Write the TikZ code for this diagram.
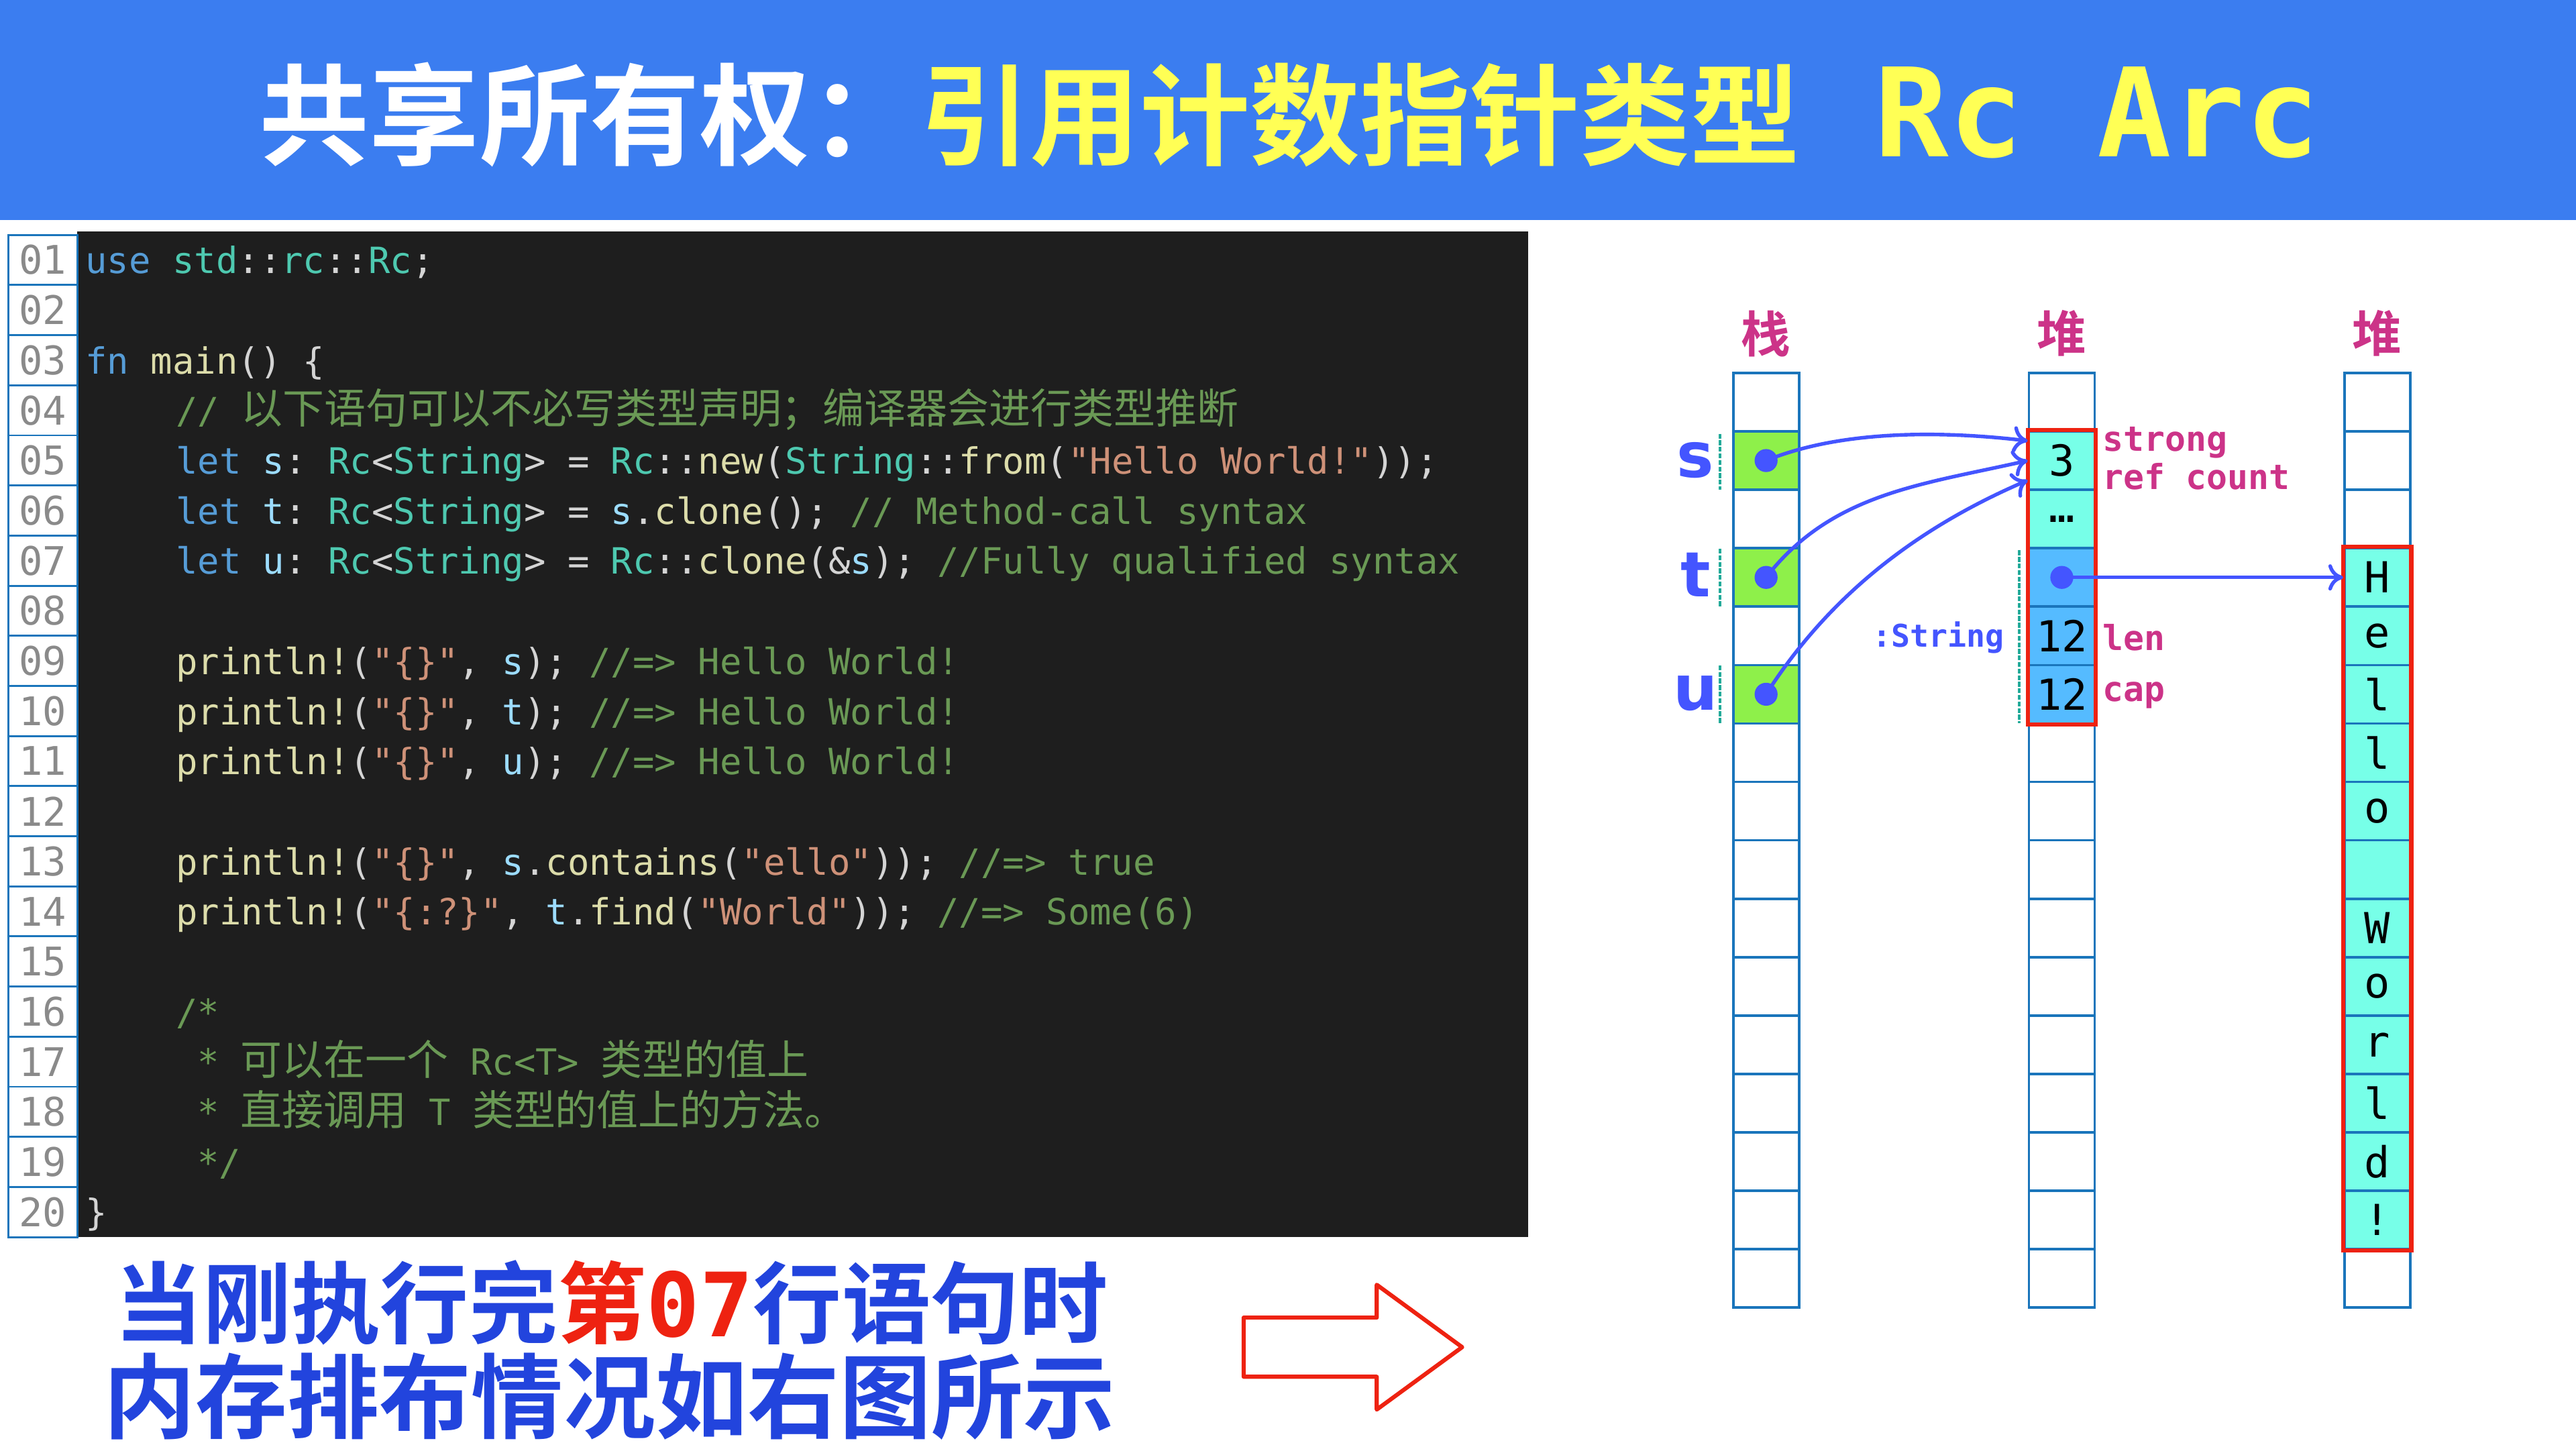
\documentclass[tikz,border=0pt]{standalone}
\usepackage{fontspec}
\setmainfont{DejaVu Sans}
\setmonofont{DejaVu Sans Mono}
\newfontfamily\cjk{Noto Sans CJK SC}[Scale=1.15]
\newfontfamily\cjkb{Noto Sans CJK SC Bold}
\newfontfamily\monob{DejaVu Sans Mono Bold}
\usetikzlibrary{calc,arrows.meta}
\definecolor{bar}{HTML}{3B7DF0}
\definecolor{ttl}{HTML}{FFFF55}
\definecolor{panel}{HTML}{1E1E1E}
\definecolor{ckw}{HTML}{569CD6}
\definecolor{cty}{HTML}{4EC9B0}
\definecolor{cfn}{HTML}{DCDCAA}
\definecolor{cva}{HTML}{9CDCFE}
\definecolor{cst}{HTML}{CE9178}
\definecolor{ccm}{HTML}{6A9955}
\definecolor{cpu}{HTML}{D4D4D4}
\definecolor{lnum}{HTML}{8A8A8A}
\definecolor{cellb}{HTML}{1A75BB}
\definecolor{green1}{HTML}{8EF04A}
\definecolor{cyan1}{HTML}{77FFE8}
\definecolor{blue1}{HTML}{55BBFF}
\definecolor{arrc}{HTML}{4455FF}
\definecolor{mag}{HTML}{CC3388}
\definecolor{teal1}{HTML}{22AA99}
\definecolor{redc}{HTML}{EE2211}
\definecolor{botb}{HTML}{2244DD}
\newcommand{\kw}[1]{\textcolor{ckw}{#1}}
\newcommand{\ty}[1]{\textcolor{cty}{#1}}
\newcommand{\fnc}[1]{\textcolor{cfn}{#1}}
\newcommand{\va}[1]{\textcolor{cva}{#1}}
\newcommand{\st}[1]{\textcolor{cst}{#1}}
\newcommand{\cm}[1]{\textcolor{ccm}{#1}}
\begin{document}
\begin{tikzpicture}[x=1mm,y=-1mm,
  codeline/.style={anchor=base west,inner sep=0,text=cpu,font=\ttfamily\fontsize{22mm}{26mm}\selectfont},
  lnbox/.style={draw=cellb,line width=1.2mm,fill=white,minimum width=42mm,minimum height=30.5mm,inner sep=0,text=lnum,font=\ttfamily\fontsize{24mm}{28mm}\selectfont},
  cell/.style={draw=cellb,line width=1.5mm,minimum width=40mm,minimum height=35.56mm,inner sep=0,font=\ttfamily\fontsize{26mm}{30mm}\selectfont},
  dotc/.style={circle,fill=arrc,minimum size=14mm,inner sep=0},
  arr/.style={draw=arrc,line width=2.2mm,-{To[length=9mm,width=16mm]}},
  lbl/.style={anchor=west,text=mag,inner sep=0,font=\monob\fontsize{21mm}{23mm}\selectfont},
  hdr/.style={text=mag,font=\cjkb\fontsize{30mm}{32mm}\selectfont},
  var/.style={text=arrc,font=\bfseries\fontsize{38mm}{40mm}\selectfont},
  dsh/.style={draw=teal1,line width=1.5mm,dashed,dash pattern=on 3mm off 1mm}]
\useasboundingbox (0,0) rectangle (1568,882);
\fill[white] (0,0) rectangle (1568,882);
% title
\fill[bar] (0,0) rectangle (1568,134);
\node (title) at (785,70) {\fontsize{67mm}{70mm}\selectfont\textcolor{white}{\cjkb 共享所有权：}\textcolor{ttl}{\cjkb 引用计数指针类型}\textcolor{ttl}{\monob\fontsize{75mm}{78mm}\selectfont{} Rc Arc}};
% code panel
\fill[panel] (47,141) rectangle (930,753);
\foreach \i [count=\n] in {01,02,03,04,05,06,07,08,09,10,11,12,13,14,15,16,17,18,19,20}
  \node[lnbox] (ln\n) at (26,143+30.5*\n-15.25) {\i};
\def\Y#1{143+30.5*#1-7}
\node[codeline] (c1) at (52,{\Y{1}}) {\kw{use} \ty{std}::\ty{rc}::\ty{Rc};};
\node[codeline] (c3) at (52,{\Y{3}}) {\kw{fn} \fnc{main}() \{};
\node[codeline] (c4) at (107,{\Y{4}}) {\cm{// {\cjk 以下语句可以不必写类型声明；编译器会进行类型推断}}};
\node[codeline] (c5) at (107,{\Y{5}}) {\kw{let} \va{s}: \ty{Rc}<\ty{String}> = \ty{Rc}::\fnc{new}(\ty{String}::\fnc{from}(\st{"Hello World!"}));};
\node[codeline] (c6) at (107,{\Y{6}}) {\kw{let} \va{t}: \ty{Rc}<\ty{String}> = \va{s}.\fnc{clone}(); \cm{// Method-call syntax}};
\node[codeline] (c7) at (107,{\Y{7}}) {\kw{let} \va{u}: \ty{Rc}<\ty{String}> = \ty{Rc}::\fnc{clone}(\&\va{s}); \cm{//Fully qualified syntax}};
\node[codeline] (c9) at (107,{\Y{9}}) {\fnc{println!}(\st{"\{\}"}, \va{s}); \cm{//=> Hello World!}};
\node[codeline] (c10) at (107,{\Y{10}}) {\fnc{println!}(\st{"\{\}"}, \va{t}); \cm{//=> Hello World!}};
\node[codeline] (c11) at (107,{\Y{11}}) {\fnc{println!}(\st{"\{\}"}, \va{u}); \cm{//=> Hello World!}};
\node[codeline] (c13) at (107,{\Y{13}}) {\fnc{println!}(\st{"\{\}"}, \va{s}.\fnc{contains}(\st{"ello"})); \cm{//=> true}};
\node[codeline] (c14) at (107,{\Y{14}}) {\fnc{println!}(\st{"\{:?\}"}, \va{t}.\fnc{find}(\st{"World"})); \cm{//=> Some(6)}};
\node[codeline] (c16) at (107,{\Y{16}}) {\cm{/*}};
\node[codeline] (c17) at (120,{\Y{17}}) {\cm{* {\cjk 可以在一个} Rc<T> {\cjk 类型的值上}}};
\node[codeline] (c18) at (120,{\Y{18}}) {\cm{* {\cjk 直接调用} T {\cjk 类型的值上的方法。}}};
\node[codeline] (c19) at (120,{\Y{19}}) {\cm{*/}};
\node[codeline] (c20) at (52,{\Y{20}}) {\}};
% bottom text
\node (b1) at (372,793) {\cjkb\fontsize{54mm}{56mm}\selectfont\textcolor{botb}{当刚执行完}\textcolor{redc}{第{\monob 07}}\textcolor{botb}{行语句时}};
\node (b2) at (371,850) {\cjkb\fontsize{56mm}{58mm}\selectfont\textcolor{botb}{内存排布情况如右图所示}};
% hollow arrow
\draw[redc,line width=2.5mm,line join=round] (757,802) -- (838,802) -- (838,782) -- (890,820) -- (838,858) -- (838,838) -- (757,838) -- cycle;
% headers
\node[hdr] (h1) at (1075,203) {栈};
\node[hdr] (h2) at (1255,203) {堆};
\node[hdr] (h3) at (1447,203) {堆};
% columns
\foreach \i in {0,...,15} {
  \node[cell,fill=white] (A\i) at (1075,{227+35.56*(\i+0.5)}) {};
  \node[cell,fill=white] (B\i) at (1255,{227+35.56*(\i+0.5)}) {};
  \node[cell,fill=white] (C\i) at (1447,{227+35.56*(\i+0.5)}) {};
}
\foreach \i in {1,3,5} \node[cell,fill=green1] at (A\i) {};
\node[cell,fill=cyan1] (B1) at (B1) {3};
\node[cell,fill=cyan1] (B2) at (B2) {\raisebox{-2mm}{…}};
\node[cell,fill=blue1] (B3) at (B3) {};
\node[cell,fill=blue1] (B4) at (B4) {12};
\node[cell,fill=blue1] (B5) at (B5) {12};
\foreach \i/\c in {3/H,4/e,5/l,6/l,7/o,8/{},9/W,10/o,11/r,12/l,13/d,14/!}
  \node[cell,fill=cyan1] (C\i) at (C\i) {\c};
\draw[redc,line width=2.5mm] (B1.north west) rectangle (B5.south east);
\draw[redc,line width=2.5mm] (C3.north west) rectangle (C14.south east);
% labels
\node[var] (vs) at (1032,280) {s};
\node[var] (vt) at (1032,350) {t};
\node[var] (vu) at (1032,422) {u};
\draw[dsh] (1047,264) -- (1047,298);
\draw[dsh] (1047,334) -- (1047,369);
\draw[dsh] (1047,405) -- (1047,440);
\draw[dsh] (1229,335) -- (1229,440);
\node[lbl,align=left] (lrc) at (1280,279) {strong\\ref count};
\node[lbl] (llen) at (1280,388) {len};
\node[lbl] (lcap) at (1280,423) {cap};
\node[text=arrc,font=\monob\fontsize{19mm}{21mm}\selectfont] (lstr) at (1180,388) {:String};
% dots and pointers
\node[dotc] (sd) at (A1) {};
\node[dotc] (td) at (A3) {};
\node[dotc] (ud) at (A5) {};
\node[dotc] (hd) at (B3) {};
\draw[arr] (sd.center) .. controls (1120,262) and (1180,262) .. ($(B1.west)+(0,-12)$);
\draw[arr] (td.center) .. controls (1115,300) and (1170,295) .. (B1.west);
\draw[arr] (ud.center) .. controls (1115,360) and (1170,320) .. ($(B1.west)+(0,12)$);
\draw[arr] (hd.center) -- (C3.west);
\end{tikzpicture}
\end{document}
